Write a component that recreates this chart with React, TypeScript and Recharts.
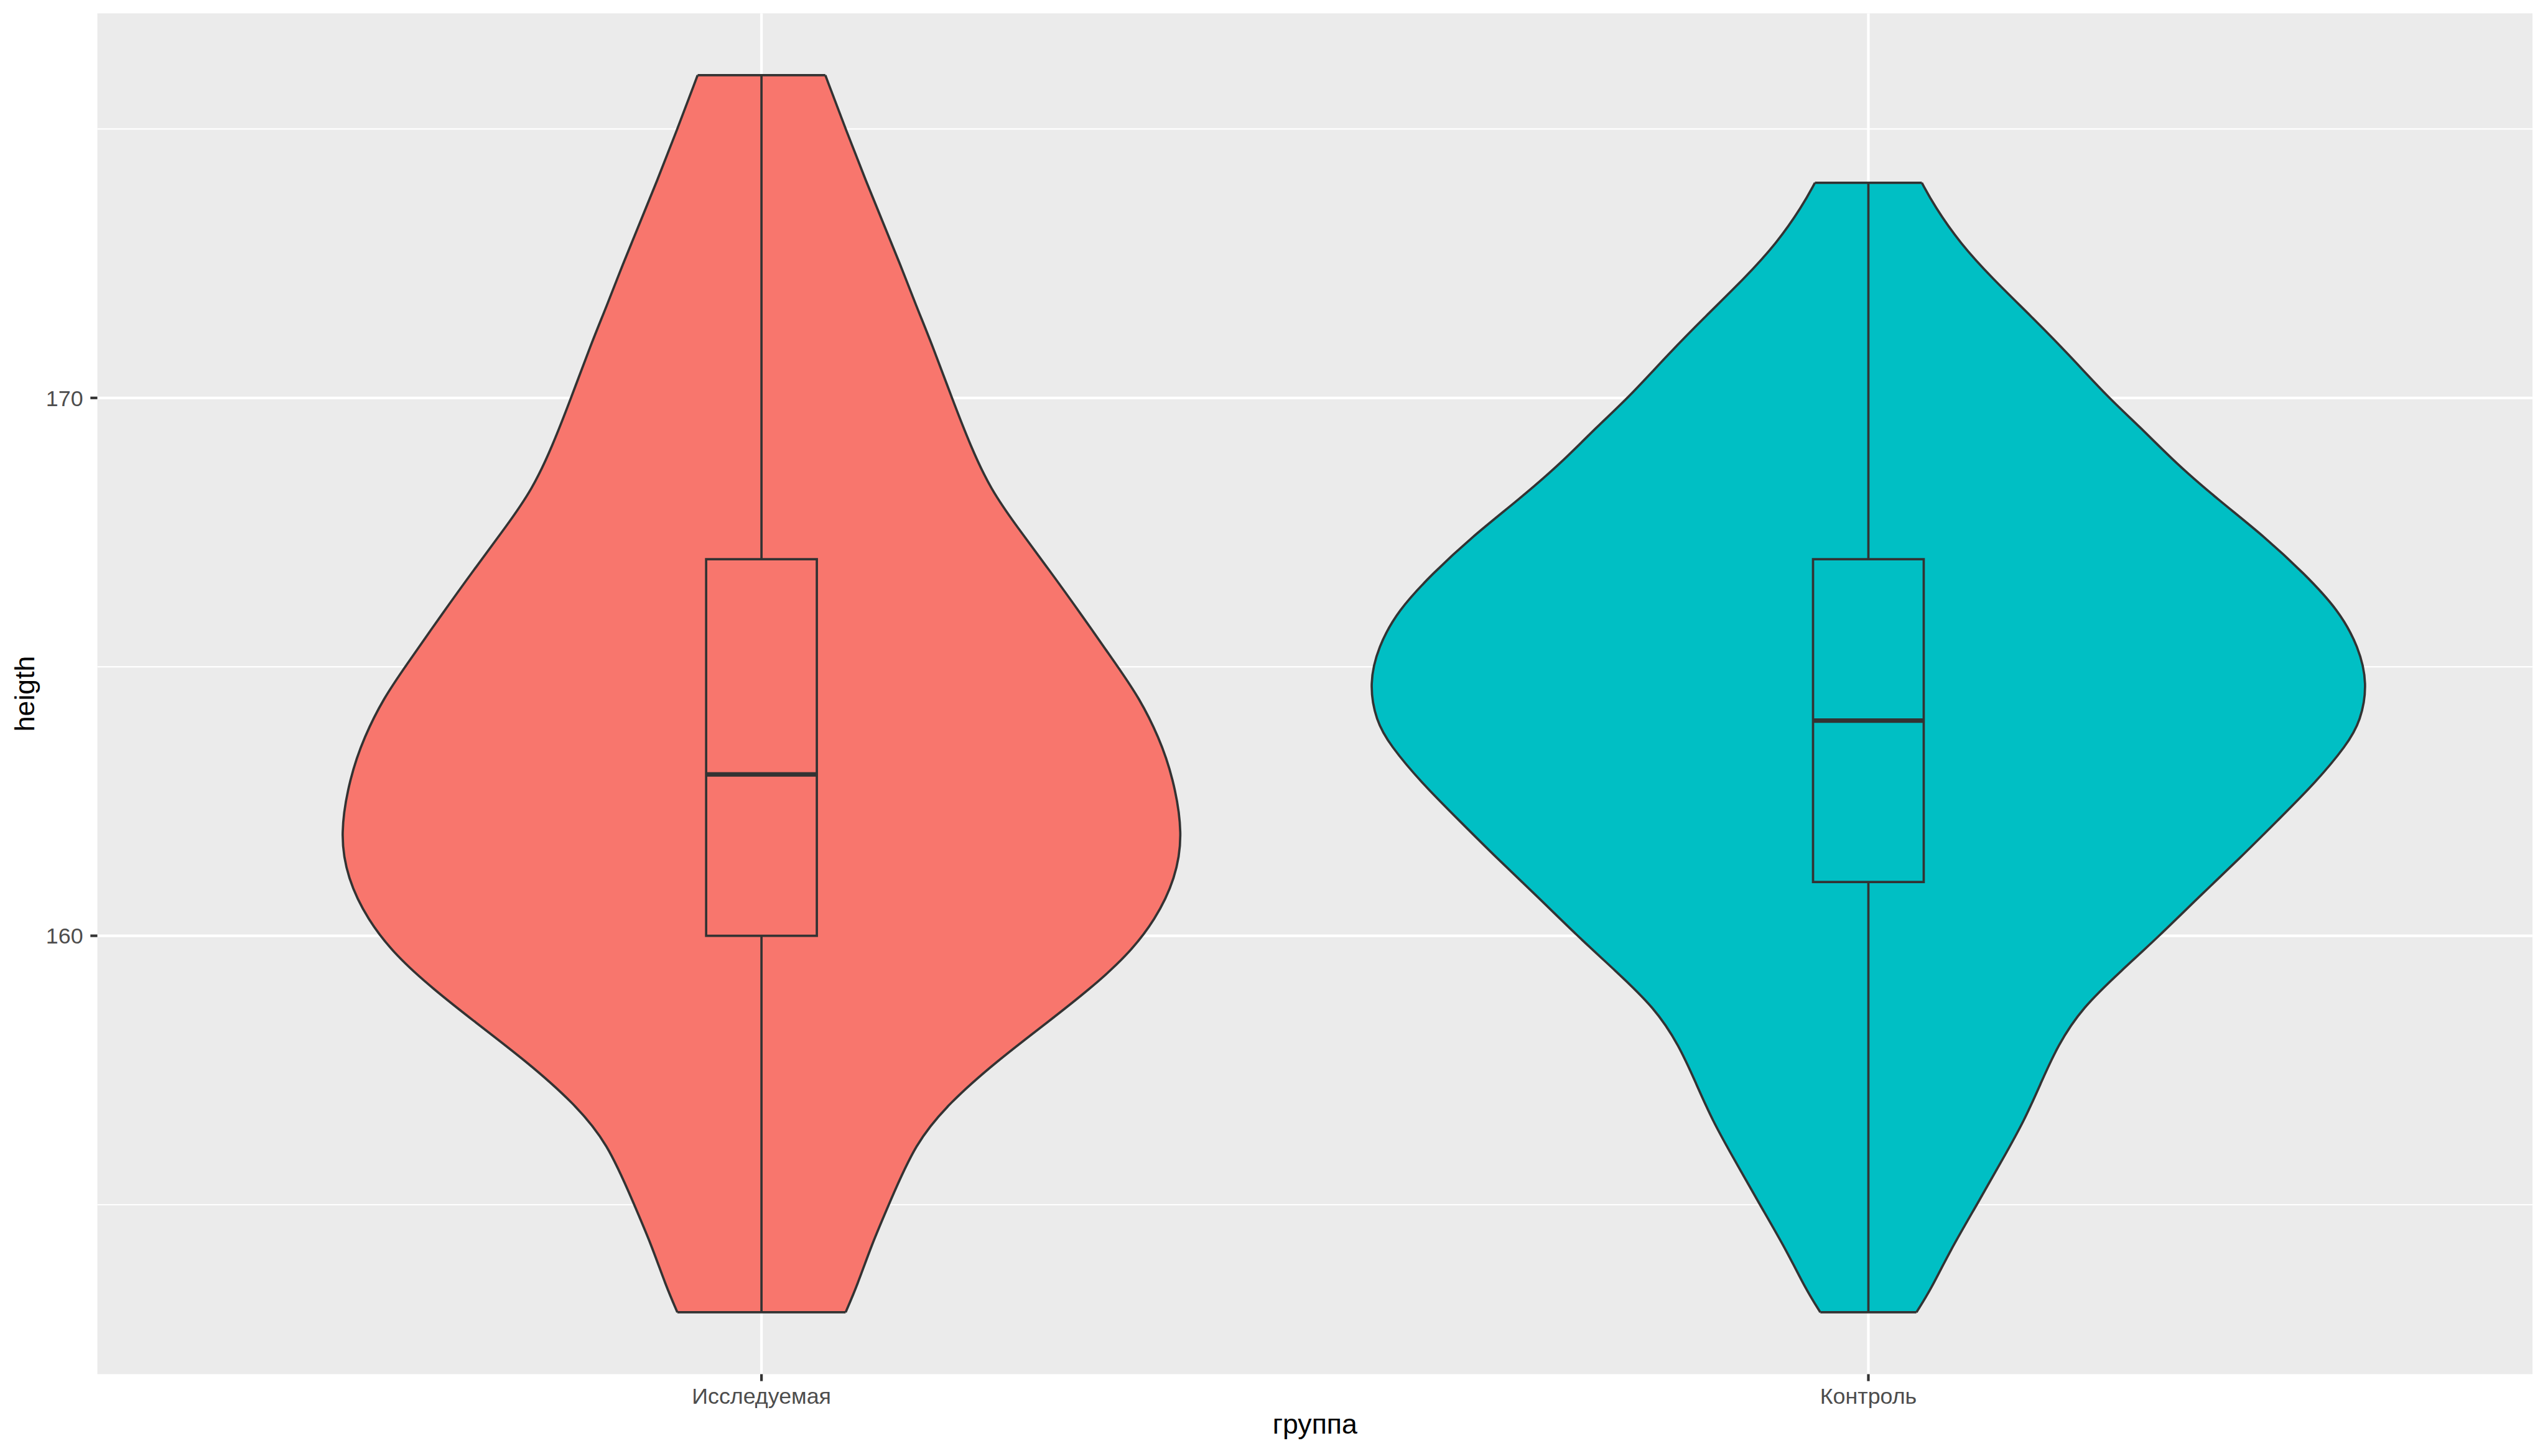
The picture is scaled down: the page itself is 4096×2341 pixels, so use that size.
import React from 'react';
import {
  ComposedChart,
  Area,
  XAxis,
  YAxis,
  CartesianGrid,
  ReferenceArea,
  ReferenceLine,
} from 'recharts';

const groups = ['Исследуемая', 'Контроль'];
const groupColors = ['#F8766D', '#00BFC4'];

// violin outlines: height -> half width (in category units)
const studyY = [
  176.0, 175.0, 174.0, 173.25, 172.5, 171.7, 171.0, 170.0, 169.1, 168.3, 167.6, 166.8, 166.0, 165.0, 164.43,
  163.7, 162.94, 161.89, 161.06, 160.3, 159.62, 159.0, 158.4, 157.66, 156.9, 156.15, 155.0, 154.26, 153.5, 153.0,
];
const studyHalf = [
  0.0577, 0.076, 0.095, 0.11, 0.125, 0.14, 0.154, 0.172, 0.189, 0.207, 0.231, 0.26, 0.288, 0.322, 0.341,
  0.359, 0.372, 0.381, 0.374, 0.356, 0.33, 0.296, 0.259, 0.212, 0.17, 0.139, 0.115, 0.0996, 0.0865, 0.076,
];
const controlY = [
  174.0, 173.57, 172.88, 172.2, 171.52, 170.83, 170.0, 169.47, 168.78, 168.1, 167.42, 166.73, 166.05, 165.37,
  164.69, 164.0, 163.54, 162.85, 162.15, 161.45, 160.75, 160.0, 159.36, 158.66, 157.96, 157.27, 156.57, 155.87,
  155.0, 154.13, 153.43, 153.0,
];
const controlHalf = [
  0.0483, 0.0596, 0.0826, 0.113, 0.147, 0.18, 0.217, 0.245, 0.278, 0.3165, 0.358, 0.394, 0.425, 0.443,
  0.451, 0.445, 0.432, 0.404, 0.37, 0.336, 0.3, 0.263, 0.229, 0.193, 0.171, 0.156, 0.141, 0.122,
  0.098, 0.0734, 0.0566, 0.0434,
];

// box stats: min, q1, median, q3, max
const studyBox = [153, 160, 163, 167, 176];
const controlBox = [153, 161, 164, 167, 174];

const yTicks = [160, 170];
const yMinor = [155, 165, 175];
const xTicks = [1, 2];

const violins = [
  { key: 'study', ys: studyY, half: studyHalf, box: studyBox },
  { key: 'control', ys: controlY, half: controlHalf, box: controlBox },
];

const rows: any[] = [];
violins.forEach((v, gi) => {
  const c = gi + 1;
  v.ys.forEach((y, i) => {
    const row: any = { y, study: [null, null], control: [null, null] };
    row[v.key] = [c - v.half[i], c + v.half[i]];
    rows.push(row);
  });
});
rows.sort((a, b) => b.y - a.y);

const FONT = '"Liberation Sans", Arial, Helvetica, sans-serif';
const OUTLINE = '#333333';
const LW = 3.7;
const BOX_HALF = 0.05;

const W = 4095;
const H = 2340;
const LEFT = 156.5;
const RIGHT = 4071.1;
const TOP = 21.45;
const BOTTOM = 2209.4;

const YTick = (props: any) => (
  <text x={133.6} y={props.y} dy="0.36em" textAnchor="end" fontSize={35.8} fill="#4D4D4D" fontFamily={FONT}>
    {props.payload.value}
  </text>
);

const XTick = (props: any) => (
  <text x={props.x} y={2257} textAnchor="middle" fontSize={35.8} fill="#4D4D4D" fontFamily={FONT}>
    {groups[props.payload.value - 1]}
  </text>
);

export default function App() {
  return (
    <div style={{ position: 'absolute', left: 0, top: 0, background: '#fff' }}>
      <ComposedChart
        width={W}
        height={H}
        data={rows}
        layout="vertical"
        margin={{ top: TOP, right: W - RIGHT, bottom: 0, left: 0 }}
      >
        <CartesianGrid fill="#EBEBEB" stroke="#FFFFFF" strokeWidth={2.15} horizontalValues={yMinor} vertical={false} />
        <CartesianGrid stroke="#FFFFFF" strokeWidth={4.2} horizontalValues={yTicks} verticalValues={xTicks} />
        <XAxis
          type="number"
          domain={[0.4, 2.6]}
          allowDataOverflow
          ticks={xTicks}
          interval={0}
          axisLine={false}
          tickLine={{ stroke: OUTLINE, strokeWidth: 4.2 }}
          tickSize={11.2}
          tickMargin={0}
          tick={XTick}
          height={H - BOTTOM}
          label={{
            value: 'группа',
            content: () => (
              <text x={(LEFT + RIGHT) / 2} y={2305} textAnchor="middle" fontSize={44.7} fill="#000" fontFamily={FONT}>
                группа
              </text>
            ),
          }}
        />
        <YAxis
          type="number"
          dataKey="y"
          domain={[151.85, 177.15]}
          reversed
          allowDataOverflow
          ticks={yTicks}
          interval={0}
          axisLine={false}
          tickLine={{ stroke: OUTLINE, strokeWidth: 4.2 }}
          tickSize={11.2}
          tickMargin={0}
          tick={YTick}
          width={LEFT}
          label={{
            value: 'heigth',
            content: () => (
              <text
                x={54.6}
                y={(TOP + BOTTOM) / 2}
                transform={`rotate(-90, 54.6, ${(TOP + BOTTOM) / 2})`}
                textAnchor="middle"
                fontSize={44.7}
                fill="#000"
                fontFamily={FONT}
              >
                heigth
              </text>
            ),
          }}
        />
        {violins.map((v, gi) => (
          <Area
            key={v.key}
            dataKey={v.key}
            type="basis"
            fill={groupColors[gi]}
            fillOpacity={1}
            stroke={OUTLINE}
            strokeWidth={LW}
            connectNulls
            dot={false}
            activeDot={false}
            isAnimationActive={false}
          />
        ))}
        {violins.map((v, gi) => {
          const c = gi + 1;
          const n = v.ys.length - 1;
          return [
            <ReferenceLine
              key={v.key + '-top'}
              segment={[
                { x: c - v.half[0], y: v.ys[0] },
                { x: c + v.half[0], y: v.ys[0] },
              ]}
              stroke={OUTLINE}
              strokeWidth={LW}
              zIndex={450}
            />,
            <ReferenceLine
              key={v.key + '-bottom'}
              segment={[
                { x: c - v.half[n], y: v.ys[n] },
                { x: c + v.half[n], y: v.ys[n] },
              ]}
              stroke={OUTLINE}
              strokeWidth={LW}
              zIndex={450}
            />,
            <ReferenceLine
              key={v.key + '-wlo'}
              segment={[
                { x: c, y: v.box[0] },
                { x: c, y: v.box[1] },
              ]}
              stroke={OUTLINE}
              strokeWidth={LW}
              zIndex={450}
            />,
            <ReferenceLine
              key={v.key + '-whi'}
              segment={[
                { x: c, y: v.box[3] },
                { x: c, y: v.box[4] },
              ]}
              stroke={OUTLINE}
              strokeWidth={LW}
              zIndex={450}
            />,
            <ReferenceArea
              key={v.key + '-box'}
              x1={c - BOX_HALF}
              x2={c + BOX_HALF}
              y1={v.box[1]}
              y2={v.box[3]}
              fill={groupColors[gi]}
              fillOpacity={1}
              stroke={OUTLINE}
              strokeWidth={LW}
              zIndex={460}
            />,
            <ReferenceLine
              key={v.key + '-med'}
              segment={[
                { x: c - BOX_HALF, y: v.box[2] },
                { x: c + BOX_HALF, y: v.box[2] },
              ]}
              stroke={OUTLINE}
              strokeWidth={LW * 2}
              zIndex={470}
            />,
          ];
        })}
      </ComposedChart>
    </div>
  );
}
